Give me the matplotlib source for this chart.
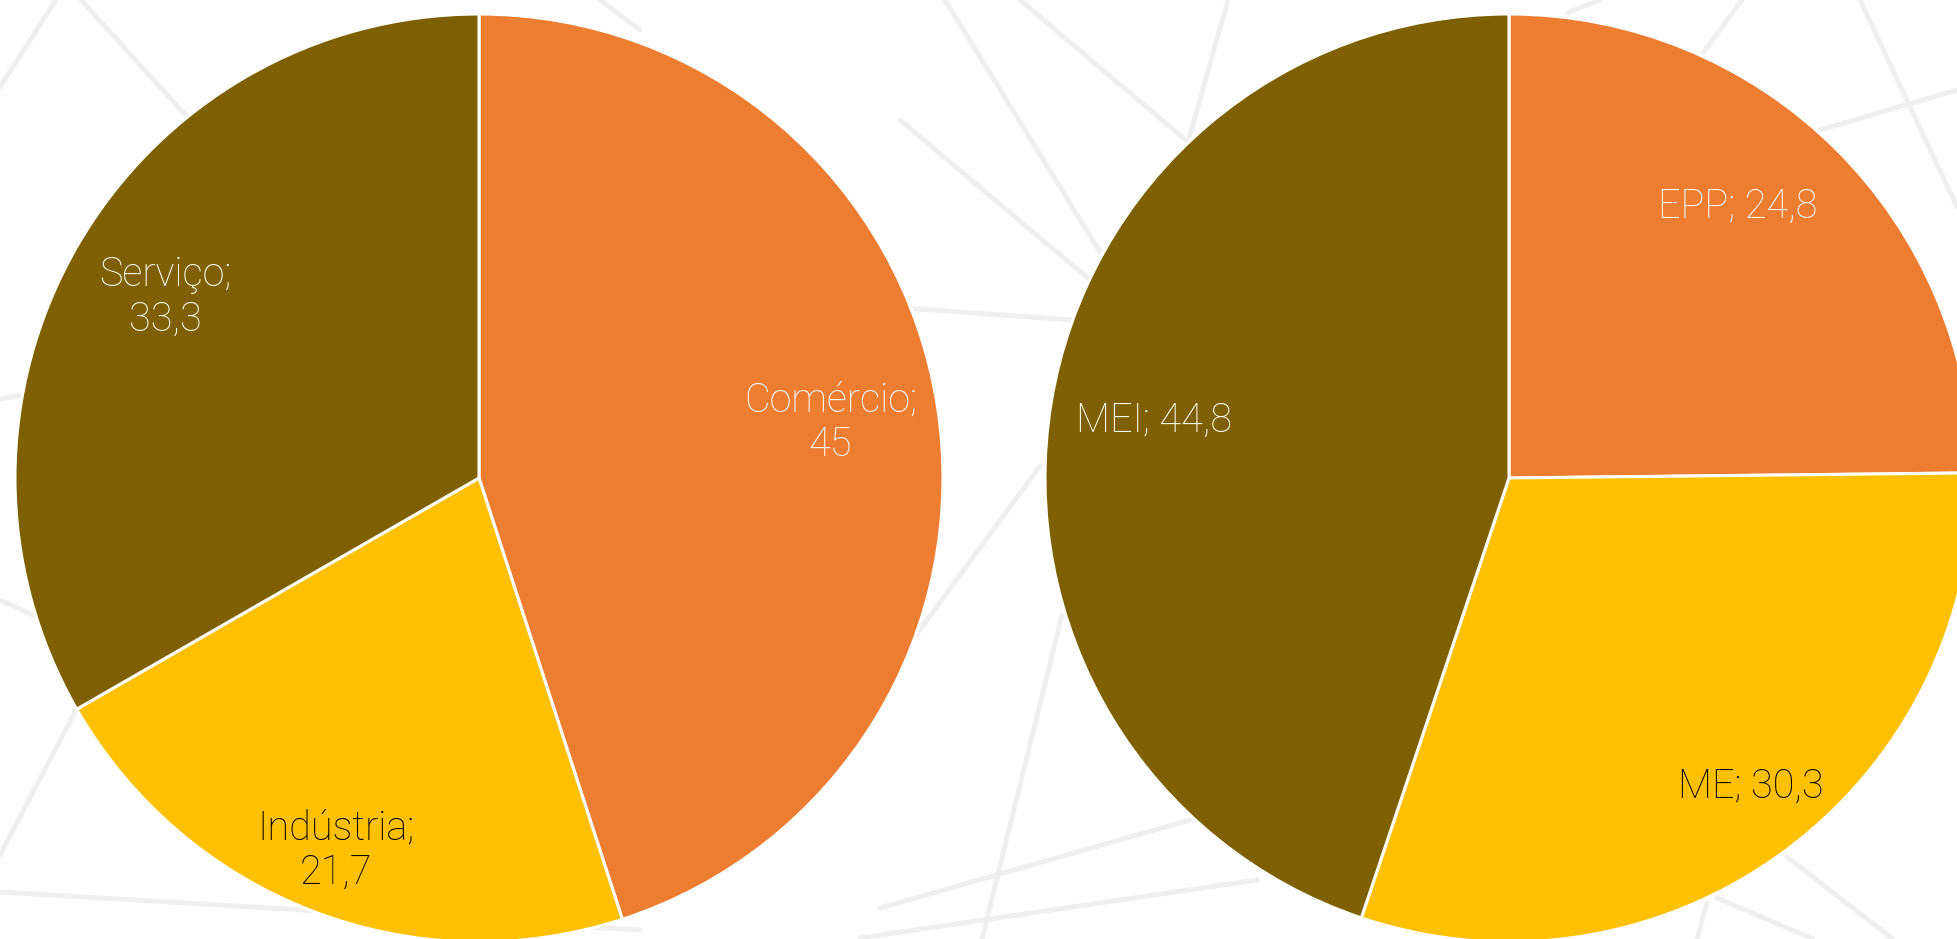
import numpy as np
import matplotlib
matplotlib.use("Agg")
import matplotlib.pyplot as plt

# === Dati ===
setores = ["Comércio", "Indústria", "Serviço"]
setores_val = [45, 21.7, 33.3]

portes = ["EPP", "ME", "MEI"]
portes_val = [24.8, 30.3, 44.8]

cores = ["#ED7D31", "#FFC000", "#7F6000"]
cor_texto = ["white", "black", "white"]

W, H = 1957, 939
fig = plt.figure(figsize=(W / 100, H / 100), dpi=100)
fig.patch.set_facecolor("white")

# === Sfondo: linee decorative ===
bg = fig.add_axes([0, 0, 1, 1])
bg.set_xlim(0, W)
bg.set_ylim(H, 0)
bg.axis("off")
linee = [
    ((0, 87), (56, 0)), ((81, 0), (190, 120)), ((0, 399), (40, 392)),
    ((0, 600), (40, 618)), ((0, 855), (75, 712)), ((0, 892), (640, 930)),
    ((945, 0), (1100, 252)), ((1020, 0), (1188, 142)), ((1188, 142), (1228, 0)),
    ((900, 120), (1090, 280)), ((905, 308), (1072, 320)), ((1040, 466), (905, 650)),
    ((1062, 615), (982, 939)), ((880, 908), (1190, 820)), ((860, 938), (1257, 880)),
    ((1703, 53), (1742, 0)), ((1860, 0), (1957, 207)), ((1820, 130), (1957, 90)),
    ((1567, 13), (1600, 0)), ((1787, 857), (1893, 939)), ((1717, 898), (1813, 939)),
    ((1707, 903), (1697, 939)), ((600, 0), (640, 30)),
]
for (x0, y0), (x1, y1) in linee:
    bg.plot([x0, x1], [y0, y1], color="#efefef", lw=3.5, solid_capstyle="round", zorder=0)


def torta(cx, cy, r, valori, nomi, dist, shift, due_righe):
    ax = fig.add_axes([(cx - r) / W, (H - cy - r) / H, 2 * r / W, 2 * r / H])
    wedges, _ = ax.pie(valori, colors=cores, startangle=90, counterclock=False,
                       wedgeprops=dict(edgecolor="white", linewidth=2.2))
    ax.set_xlim(-1, 1)
    ax.set_ylim(-1, 1)
    ax.set_facecolor("none")
    for i, w in enumerate(wedges):
        ang = np.deg2rad((w.theta1 + w.theta2) / 2 + shift[i])
        val = f"{valori[i]:g}".replace(".", ",")
        sep = "\n" if due_righe[i] else " "
        ax.text(dist[i] * np.cos(ang), dist[i] * np.sin(ang), f"{nomi[i]};{sep}{val}",
                ha="center", va="center", color=cor_texto[i], fontsize=28.5,
                family="Roboto", fontweight="light", linespacing=1.2)


torta(479, 478, 464, setores_val, setores,
      [0.767, 0.86, 0.78], [0, 0, 0], [True, True, True])
torta(1509, 478, 464, portes_val, portes,
      [0.765, 0.845, 0.775], [4.6, 2, 0], [False, False, False])

fig.savefig("out.png", dpi=100, facecolor="white")
